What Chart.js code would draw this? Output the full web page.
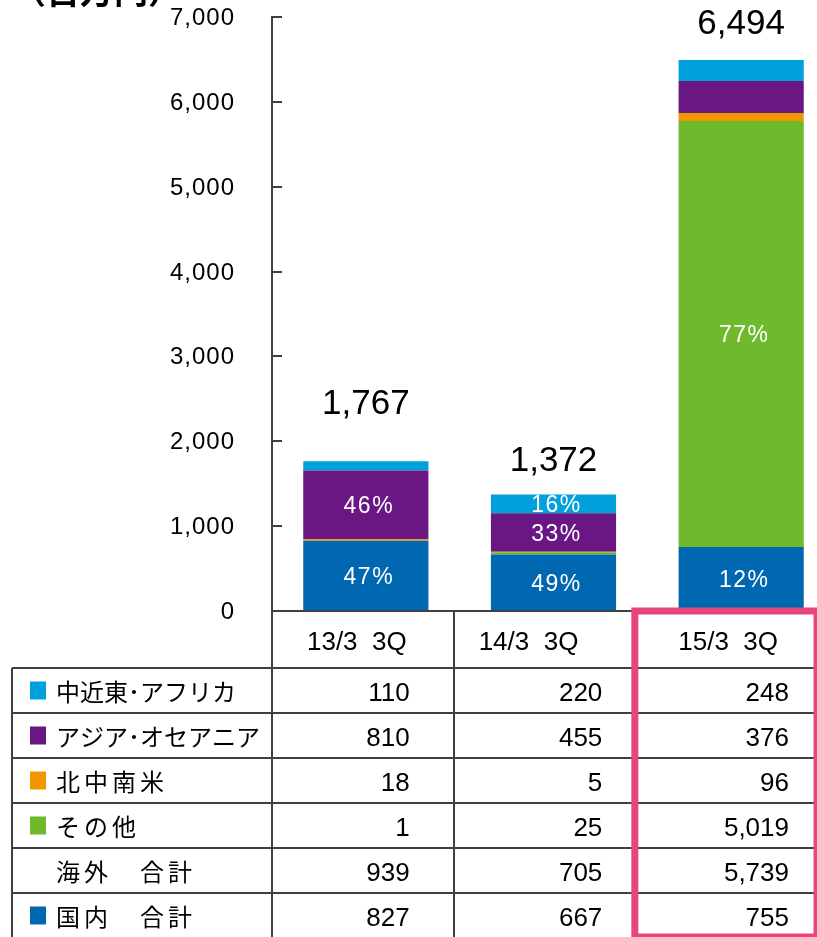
<!DOCTYPE html>
<html>
<head>
<meta charset="utf-8">
<script src="https://cdn.jsdelivr.net/npm/chart.js@4.4.0/dist/chart.umd.min.js"></script>
<style>
  html, body { margin: 0; padding: 0; background: #fff; overflow: hidden; width: 817px; height: 937px; }
  canvas { display: block; }
</style>
</head>
<body>
<canvas id="c" width="835" height="937"></canvas>
<script>
// ---- data ----
const categories = ['13/3  3Q', '14/3  3Q', '15/3  3Q'];
const seriesNames = ['中近東･アフリカ', 'アジア･オセアニア', '北中南米', 'その他'];
const middleEastAfrica = [110, 220, 248];
const asiaOceania = [810, 455, 376];
const americas = [18, 5, 96];
const others = [1, 25, 5019];
const overseasTotal = [939, 705, 5739];
const domestic = [827, 667, 755];
const grandTotals = [1767, 1372, 6494];
const yTickValues = [0, 1000, 2000, 3000, 4000, 5000, 6000, 7000];
const unitLabel = '（百万円）';
const overseasLabel = '海外　合計';
const domesticLabel = '国内　合計';

// ---- styles ----
const COLORS = {
  domestic: '#0068B0',
  others: '#6FB92C',
  americas: '#F29600',
  asia: '#6A1683',
  mea: '#00A0DC',
  line: '#404040',
  pink: '#E8457F'
};
const VIEW_W = 817;
const totalLift = [57, 33, 36];
const NUM_FONT = '"Liberation Sans", Arial, sans-serif';
const JP_FONT = '"Noto Sans CJK JP", "Noto Sans", sans-serif';

const fmt = v => v.toLocaleString('en-US');
const setLS = (ctx, v) => { try { ctx.letterSpacing = v; } catch (e) {} };

const overlay = {
  id: 'overlay',
  afterDraw(chart) {
    const ctx = chart.ctx;
    const xs = chart.scales.x, ys = chart.scales.y;
    const axisX = ys.right;
    ctx.save();

    // inward tick marks + tick labels
    ctx.strokeStyle = COLORS.line;
    ctx.lineWidth = 2;
    ctx.fillStyle = '#000';
    ctx.font = '24px ' + NUM_FONT;
    ctx.textAlign = 'right';
    ctx.textBaseline = 'middle';
    setLS(ctx, '1px');
    yTickValues.forEach(v => {
      const y = Math.round(ys.getPixelForValue(v));
      ctx.beginPath();
      ctx.moveTo(axisX, y);
      ctx.lineTo(axisX + 10, y);
      ctx.stroke();
      ctx.fillText(fmt(v), axisX - 37, y + 1);
    });
    setLS(ctx, '0px');

    // totals
    ctx.fillStyle = '#000';
    ctx.font = '35px ' + NUM_FONT;
    ctx.textAlign = 'center';
    ctx.textBaseline = 'middle';
    grandTotals.forEach((t, i) => {
      const x = xs.getPixelForValue(i);
      const y = ys.getPixelForValue(t) - totalLift[i];
      ctx.fillText(fmt(t), x, y);
    });

    // percentage labels
    ctx.font = '23px ' + NUM_FONT;
    ctx.fillStyle = '#fff';
    setLS(ctx, '1.5px');
    chart.data.datasets.forEach((ds, di) => {
      const meta = chart.getDatasetMeta(di);
      ds.data.forEach((v, i) => {
        const pct = Math.round(v / grandTotals[i] * 100);
        if (pct < 10) return;
        const el = meta.data[i];
        const y = (el.y + el.base) / 2;
        ctx.fillText(pct + '%', el.x + 3, y + 2);
      });
    });
    setLS(ctx, '0px');

    // table
    const top = ys.bottom;            // x-axis line
    const headerBottom = top + 57;
    const rowH = 45;
    const leftEdge = 12;
    const colW = (VIEW_W - axisX) / 3;
    const colEdges = [axisX, axisX + colW, axisX + 2 * colW, VIEW_W];
    const bottom = 937;

    ctx.strokeStyle = COLORS.line;
    ctx.lineWidth = 2;
    const hline = (x1, x2, y) => { ctx.beginPath(); ctx.moveTo(x1, y); ctx.lineTo(x2, y); ctx.stroke(); };
    const vline = (x, y1, y2) => { ctx.beginPath(); ctx.moveTo(x, y1); ctx.lineTo(x, y2); ctx.stroke(); };
    hline(axisX, VIEW_W, Math.round(top));
    for (let r = 0; r < 6; r++) hline(leftEdge, VIEW_W, Math.round(headerBottom + r * rowH));
    vline(leftEdge, headerBottom, bottom);
    vline(Math.round(colEdges[0]), top, bottom);
    vline(Math.round(colEdges[1]), top, bottom);
    vline(Math.round(colEdges[2]), top, bottom);

    // header labels
    ctx.fillStyle = '#000';
    ctx.font = '26px ' + NUM_FONT;
    ctx.textAlign = 'center';
    ctx.textBaseline = 'middle';
    const headerShift = [-6, -16, 2];
    categories.forEach((c, i) => {
      const cx = (colEdges[i] + colEdges[i + 1]) / 2;
      ctx.fillText(c, cx + headerShift[i], top + 32);
    });

    // rows
    const rows = [
      { label: seriesNames[0], color: COLORS.mea, vals: middleEastAfrica },
      { label: seriesNames[1], color: COLORS.asia, vals: asiaOceania },
      { label: seriesNames[2], color: COLORS.americas, vals: americas },
      { label: seriesNames[3], color: COLORS.others, vals: others },
      { label: overseasLabel, color: null, vals: overseasTotal },
      { label: domesticLabel, color: COLORS.domestic, vals: domestic }
    ];
    const numInset = [44, 33, 28];
    rows.forEach((row, r) => {
      const cy = headerBottom + r * rowH + rowH / 2;
      if (row.color) {
        ctx.fillStyle = row.color;
        ctx.fillRect(30, cy - 9, 16, 18);
      }
      ctx.fillStyle = '#000';
      ctx.font = '24px ' + JP_FONT;
      ctx.textAlign = 'left';
      ctx.textBaseline = 'middle';
      setLS(ctx, r === 0 || r === 1 ? '0px' : '4px');
      ctx.fillText(row.label, 56, cy + 1);
      setLS(ctx, '0px');
      ctx.font = '26px ' + NUM_FONT;
      ctx.textAlign = 'right';
      row.vals.forEach((v, i) => {
        ctx.fillText(fmt(v), colEdges[i + 1] - numInset[i], cy + 3);
      });
    });

    // highlight box
    ctx.strokeStyle = COLORS.pink;
    ctx.lineWidth = 7;
    ctx.strokeRect(colEdges[2] - 0.5, top, VIEW_W - colEdges[2] + 0.5, bottom - top);

    // unit label (clipped at top)
    ctx.fillStyle = '#000';
    ctx.font = 'bold 34px ' + JP_FONT;
    ctx.textAlign = 'left';
    ctx.textBaseline = 'alphabetic';
    ctx.fillText(unitLabel, 12, 4);

    ctx.restore();
  }
};

const chart = new Chart(document.getElementById('c'), {
  type: 'bar',
  data: {
    labels: categories,
    datasets: [
      { label: domesticLabel, data: domestic, backgroundColor: COLORS.domestic },
      { label: seriesNames[3], data: others, backgroundColor: COLORS.others },
      { label: seriesNames[2], data: americas, backgroundColor: COLORS.americas },
      { label: seriesNames[1], data: asiaOceania, backgroundColor: COLORS.asia },
      { label: seriesNames[0], data: middleEastAfrica, backgroundColor: COLORS.mea }
    ]
  },
  options: {
    responsive: false,
    animation: false,
    events: [],
    layout: { padding: { top: 17, bottom: 326, left: 0, right: 0 } },
    datasets: { bar: { categoryPercentage: 1, barPercentage: 0.667, borderWidth: 0 } },
    plugins: { legend: { display: false }, tooltip: { enabled: false } },
    scales: {
      x: { stacked: true, display: false },
      y: {
        stacked: true,
        min: 0, max: 7000,
        afterFit(scale) { scale.width = 272; },
        afterBuildTicks(scale) { scale.ticks = yTickValues.map(v => ({ value: v })); },
        grid: { display: false, drawTicks: false },
        border: { display: true, color: COLORS.line, width: 2 },
        ticks: { display: false }
      }
    }
  },
  plugins: [overlay]
});
</script>
</body>
</html>
